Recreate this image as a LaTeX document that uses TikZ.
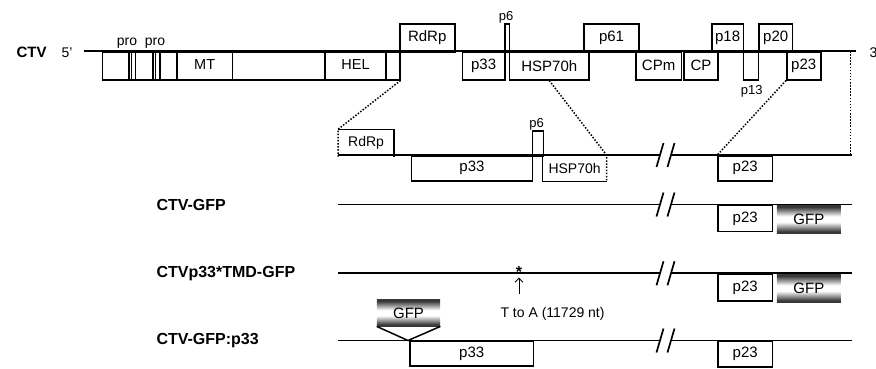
\documentclass[tikz,border=0pt]{standalone}
\usepackage{fontspec}
\setmainfont{Liberation Sans}
\usetikzlibrary{arrows.meta}
\pgfdeclareverticalshading{gfpfade}{100bp}{color(0bp)=(black!78); color(28bp)=(black!78); color(45bp)=(white); color(55bp)=(white); color(72bp)=(black!78); color(100bp)=(black!78)}

\begin{document}
\begin{tikzpicture}[x=1pt,y=-1pt,
  gene/.style={line width=1.7pt},
  orf/.style={draw, line width=1.5pt, inner sep=0pt, anchor=north west, font=\fontsize{15}{17}\selectfont},
  zoomline/.style={line width=1.5pt, dash pattern=on 1.5pt off 1.6pt},
  gfpbox/.style={shade, shading=gfpfade, inner sep=0pt, anchor=north west, minimum width=64, minimum height=28, font=\fontsize{15}{17}\selectfont},
  rowlabel/.style={anchor=base west, font=\fontsize{16}{18}\selectfont\bfseries},
  tag/.style={anchor=base, font=\fontsize{13}{15}\selectfont}]
\useasboundingbox (0,0) rectangle (876,368);

\draw[gene] (84,51) -- (856,51);
\node[anchor=base west, font=\fontsize{15}{17}\selectfont\bfseries] (ctv) at (13,57) {CTV};
\node[anchor=base west, font=\fontsize{14}{16}\selectfont] (fivep) at (58,57) {5'};
\node[anchor=base west, font=\fontsize{14}{16}\selectfont] (threep) at (866,57) {3};

\node[orf, minimum width=297.5, minimum height=28] (orfa) at (101.5,51) {};
\foreach \x in {129,131.5,135.5,153,155.5,160,177,232.5,325,386} {\draw[line width=1.5pt] (\x,51) -- (\x,79);}
\node[font=\fontsize{14.5}{16}\selectfont] (mt) at (204.7,65) {MT};
\node[font=\fontsize{14.5}{16}\selectfont] (hel) at (355.5,65) {HEL};
\node[tag, font=\fontsize{14}{16}\selectfont] (proa) at (127,45) {pro};
\node[tag, font=\fontsize{14}{16}\selectfont] (prob) at (155,45) {pro};

\node[orf, minimum width=55, minimum height=28] (rdrp) at (399,23) {RdRp};
\node[orf, minimum width=42.3, minimum height=28] (p33) at (461.7,51) {p33};
\node[orf, minimum width=4.7, minimum height=28] (p6) at (504,23) {};
\node[tag] (p6lab) at (506,20) {p6};
\node[orf, minimum width=79.6, minimum height=28] (hsp) at (508.7,51) {HSP70h};
\node[orf, minimum width=55, minimum height=28] (p61) at (583.3,23) {p61};
\node[orf, minimum width=45.7, minimum height=28] (cpm) at (635,51) {CPm};
\node[orf, minimum width=34, minimum height=28] (cp) at (683.3,51) {CP};
\node[orf, minimum width=31.7, minimum height=28] (p18) at (711,23) {p18};
\node[orf, minimum width=15, minimum height=28] (p13) at (742.7,51) {};
\node[tag] (p13lab) at (751.7,94) {p13};
\node[orf, minimum width=33.4, minimum height=28] (p20) at (758.3,23) {p20};
\node[orf, minimum width=34, minimum height=28] (p23) at (786,51) {p23};

\foreach \y in {155,204.5,273.3,340.5} {
    \draw[gene] (338,\y) -- (660,\y);
    \draw[gene] (671,\y) -- (851.7,\y);
    \draw[gene] (656.5,\y+12) -- (663.5,\y-12);
    \draw[gene] (667.5,\y+12) -- (674.5,\y-12);
}

\node[orf, draw=none, minimum width=54.7, minimum height=25.7, font=\fontsize{14}{16}\selectfont] (rdrpz) at (338,129.3) {RdRp};
\draw[line width=1.5pt] (rdrpz.north west) -- (rdrpz.north east) -- (rdrpz.south east);
\node[orf, minimum width=121, minimum height=25] (p33z) at (410.7,155) {p33};
\node[orf, minimum width=11, minimum height=25] (p6z) at (531.7,130) {};
\node[tag] (p6zlab) at (536.7,127) {p6};
\node[orf, draw=none, minimum width=62.3, minimum height=25, font=\fontsize{14}{16}\selectfont] (hspz) at (542.7,155) {HSP70h};
\draw[line width=1.5pt] (hspz.north east) -- (hspz.north west) -- (hspz.south west) -- (hspz.south east);
\node[orf, minimum width=54.4, minimum height=25] (p23z) at (717.3,155) {p23};

\coordinate (gend) at (850.7,51);
\coordinate (zend) at (850.7,155);
\draw[zoomline] (orfa.south east) -- (rdrpz.north west) -- (rdrpz.south west);
\draw[zoomline] (hsp.south) -- (hspz.north east) -- (hspz.south east);
\draw[zoomline] (p23.south west) -- (p23z.north west);
\draw[zoomline] (gend) -- (zend);

\node[rowlabel] (lgfp) at (153,210) {CTV-GFP};
\node[orf, minimum width=54.4, minimum height=26.2] (p23a) at (717.3,204.5) {p23};
\node[gfpbox] (gfpa) at (776.7,205) {GFP};

\node[rowlabel] (ltmd) at (153,277.5) {CTVp33*TMD-GFP};
\node[orf, minimum width=54.4, minimum height=26.7] (p23b) at (717.3,273.3) {p23};
\node[gfpbox] (gfpb) at (776.7,274) {GFP};
\node[anchor=base, font=\fontsize{16}{18}\selectfont\bfseries] (star) at (519,277) {*};
\coordinate (arrtail) at (519,294);
\coordinate (arrhead) at (519,277.5);
\draw[-{Straight Barb[length=4pt,width=8pt]}, line width=1pt] (arrtail) -- (arrhead);
\node[anchor=base west, font=\fontsize{14}{16}\selectfont] (mut) at (497,317.5) {T to A (11729 nt)};

\node[rowlabel] (lp33) at (153,344) {CTV-GFP:p33};
\node[gfpbox, minimum width=63.3, minimum height=26.7] (gfpc) at (376.7,299.3) {GFP};
\coordinate (ins) at (408,340.5);
\draw[line width=1.5pt] (gfpc.south west) -- (ins) -- (gfpc.south east);
\node[orf, minimum width=123.4, minimum height=24.5] (p33c) at (409.3,340.5) {p33};
\node[orf, minimum width=54.4, minimum height=25.5] (p23c) at (717.3,340.5) {p23};
\end{tikzpicture}
\end{document}
